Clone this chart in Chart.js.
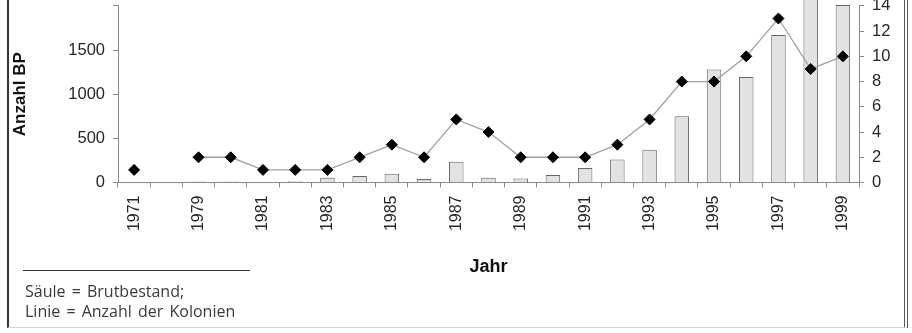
<!DOCTYPE html>
<html>
<head>
<meta charset="utf-8">
<script src="https://cdn.jsdelivr.net/npm/chart.js@4.4.1/dist/chart.umd.min.js"></script>
<style>
  html, body { margin: 0; padding: 0; background: #fff; }
  #page { position: relative; width: 912px; height: 333px; overflow: hidden; background: #fff; }
  #frame {
    position: absolute; left: 7px; top: -5px; width: 895px; height: 332px;
    border-left: 2px solid #333; border-right: 4px double #555; border-bottom: 1px solid #d4d4d4;
  }
  #chart-box { position: absolute; left: 0; top: -12px; width: 912px; height: 290px; }
  #rule { position: absolute; left: 23px; top: 270px; width: 227px; border-top: 1px solid #333; }
  #note {
    position: absolute; left: 25px; top: 281px;
    font-family: "Open Sans", sans-serif; font-size: 16px; line-height: 20px; word-spacing: 2px; color: #3a3a3a;
  }
</style>
</head>
<body>
<div id="page">
  <div id="chart-box"><canvas id="colony-chart"></canvas></div>
  <div id="frame"></div>
  <div id="rule"></div>
  <div id="note">Säule = Brutbestand;<br>Linie = Anzahl der Kolonien</div>
</div>
<script>
// years (the second one has no data and no label)
const years = ['1971', '1978', '1979', '1980', '1981', '1982', '1983', '1984', '1985', '1986', '1987',
  '1988', '1989', '1990', '1991', '1992', '1993', '1994', '1995', '1996', '1997', '1998', '1999'];
// breeding pairs (bars, left axis)
const pairs = [0, null, 10, 10, 0, 15, 55, 75, 100, 40, 235,
  55, 45, 85, 165, 260, 370, 750, 1280, 1195, 1670, 2100, 2010];
// number of colonies (line, right axis)
const colonies = [1, null, 2, 2, 1, 1, 1, 2, 3, 2, 5,
  4, 2, 2, 2, 3, 5, 8, 8, 10, 13, 9, 10];
const leftTicks = [0, 500, 1000, 1500, 2000];
const rightTicks = [0, 2, 4, 6, 8, 10, 12, 14];

const axisColor = '#8a8a8a';
const textColor = '#262626';

const ctx = document.getElementById('colony-chart').getContext('2d');
new Chart(ctx, {
  type: 'bar',
  data: {
    labels: years,
    datasets: [{
      type: 'line',
      label: 'Anzahl der Kolonien',
      data: colonies,
      yAxisID: 'yRight',
      borderColor: '#a0a0a0',
      borderWidth: 1.3,
      pointStyle: 'rectRot',
      pointRadius: 5.5,
      pointBackgroundColor: '#000',
      pointBorderColor: '#000',
      pointBorderWidth: 1,
      spanGaps: false,
      tension: 0,
      order: 1
    }, {
      label: 'Brutbestand',
      data: pairs,
      yAxisID: 'yLeft',
      backgroundColor: '#e2e2e2',
      borderColor: '#666',
      borderWidth: 1,
      barPercentage: 0.45,
      categoryPercentage: 1,
      clip: false,
      order: 2
    }]
  },
  options: {
    responsive: true,
    maintainAspectRatio: false,
    animation: false,
    layout: { padding: { top: 16, right: 8, bottom: 0, left: 0 } },
    plugins: { legend: { display: false }, tooltip: { enabled: false } },
    scales: {
      x: {
        grid: { offset: true, drawOnChartArea: false, color: axisColor, tickLength: 5 },
        border: { color: axisColor },
        ticks: {
          autoSkip: false,
          minRotation: 90,
          maxRotation: 90,
          padding: 8,
          color: textColor,
          font: { family: 'Liberation Sans', size: 16 },
          callback: (v, i) => (i % 2 === 0 ? years[i] : '')
        },
        title: {
          display: true, text: 'Jahr', color: '#111',
          font: { family: 'Liberation Sans', size: 18, weight: 'bold' },
          padding: { top: 0, bottom: 0 }
        },
        afterFit: (scale) => { scale.height = 95.5; }
      },
      yLeft: {
        position: 'left',
        min: 0,
        max: 2000,
        afterBuildTicks: (scale) => { scale.ticks = leftTicks.map(v => ({ value: v })); },
        grid: { drawOnChartArea: false, color: axisColor, tickLength: 5 },
        border: { color: axisColor },
        ticks: {
          padding: 8,
          color: textColor,
          font: { family: 'Liberation Sans', size: 16.5 },
          callback: (v) => (v === 2000 ? '' : v)
        },
        title: {
          display: true, text: 'Anzahl BP', color: '#111',
          font: { family: 'Liberation Sans', size: 17, weight: 'bold' },
          padding: { top: 10, bottom: 0 }
        },
        afterFit: (scale) => { scale.width = 118; }
      },
      yRight: {
        position: 'right',
        min: 0,
        max: 14,
        afterBuildTicks: (scale) => { scale.ticks = rightTicks.map(v => ({ value: v })); },
        grid: { drawOnChartArea: false, color: axisColor, tickLength: 5 },
        border: { color: axisColor },
        ticks: {
          padding: 8,
          color: textColor,
          font: { family: 'Liberation Sans', size: 16.5 }
        },
        afterFit: (scale) => { scale.width = 45; }
      }
    }
  }
});
</script>
</body>
</html>
